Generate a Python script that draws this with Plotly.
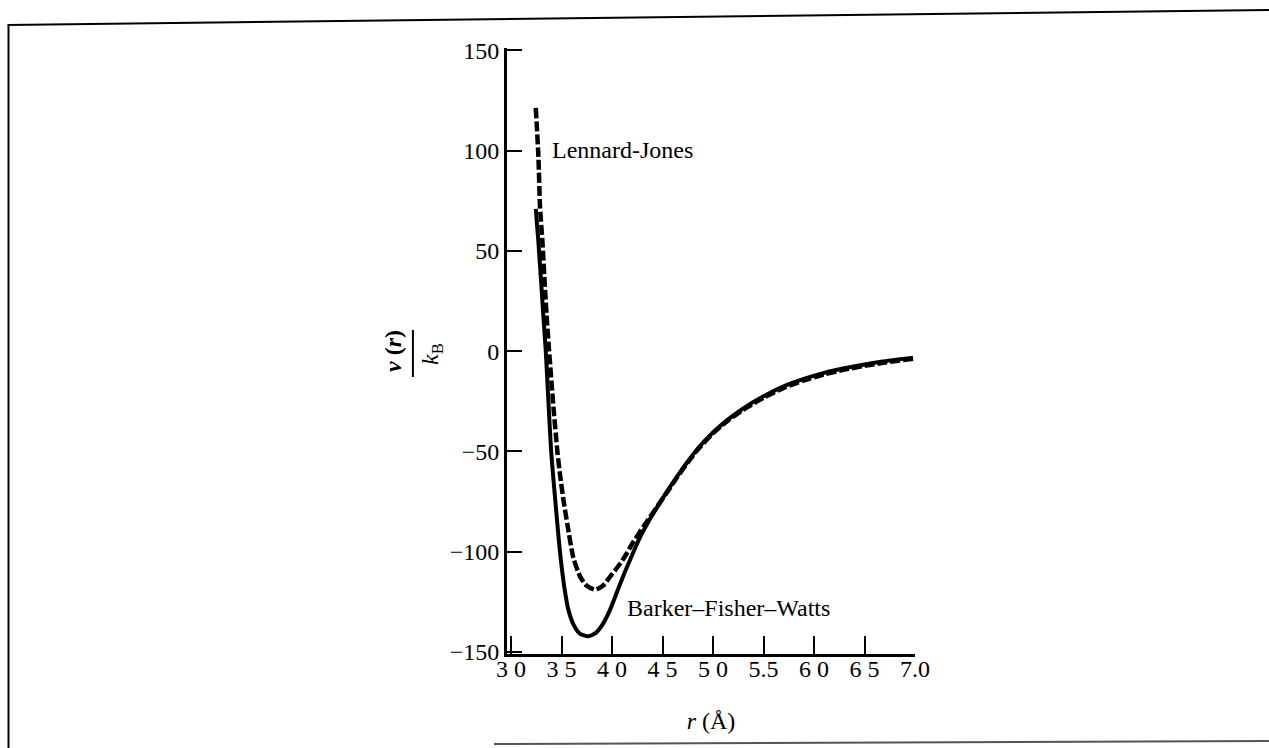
import plotly.graph_objects as go

# Pair potential of argon: Lennard-Jones vs Barker-Fisher-Watts, v(r)/k_B in K
lj_r = [3.245, 3.271, 3.287, 3.310, 3.337, 3.357, 3.377, 3.420, 3.459, 3.486,
        3.520, 3.560, 3.617, 3.684, 3.750, 3.832, 3.910, 3.981, 4.050, 4.113,
        4.200, 4.308, 4.378, 4.460, 4.550, 4.650, 4.750, 4.850, 5.000, 5.150,
        5.300, 5.500, 5.700, 5.900, 6.100, 6.300, 6.500, 6.700, 6.980]
lj_v = [121.3, 97.0, 72.0, 55.0, 30.5, 14.0, 0.0, -28.0, -50.0, -62.0,
        -74.5, -87.0, -103.0, -112.4, -117.0, -118.9, -117.0, -112.4, -108.0, -103.5,
        -96.0, -87.7, -82.6, -76.5, -70.0, -62.5, -55.5, -49.0, -41.0, -34.5,
        -29.2, -23.2, -18.3, -14.6, -11.6, -9.2, -7.3, -5.7, -3.8]

bfw_r = [3.245, 3.270, 3.300, 3.322, 3.344, 3.370, 3.396, 3.420, 3.446, 3.470,
         3.493, 3.530, 3.568, 3.620, 3.680, 3.766, 3.840, 3.910, 3.980, 4.050,
         4.120, 4.200, 4.280, 4.360, 4.450, 4.550, 4.650, 4.750, 4.850, 5.000,
         5.150, 5.300, 5.500, 5.700, 5.900, 6.100, 6.300, 6.500, 6.700, 6.980]
bfw_v = [71.0, 55.0, 33.0, 16.0, 0.0, -25.0, -49.0, -64.0, -79.0, -92.5,
         -104.0, -118.5, -129.0, -136.5, -140.8, -142.2, -140.5, -136.0, -129.0, -120.0,
         -111.0, -101.5, -92.5, -85.0, -77.5, -69.5, -62.0, -55.0, -48.5, -40.5,
         -34.0, -28.5, -22.5, -17.5, -13.8, -10.8, -8.5, -6.6, -5.0, -3.2]

x_ticks = [3.0, 3.5, 4.0, 4.5, 5.0, 5.5, 6.0, 6.5, 7.0]
x_tick_text = ["3 0", "3 5", "4 0", "4 5", "5 0", "5.5", "6 0", "6 5", "7.0"]
y_ticks = [-150, -100, -50, 0, 50, 100, 150]
y_tick_text = ["\u2212150", "\u2212100", "\u221250", "0", "50", "100", "150"]

W, H = 1269, 748
L, R, T, B = 507, 914.6, 48, 654  # plot area in pixels
SERIF = "Liberation Serif, Times New Roman, serif"
FONT = dict(family=SERIF, size=24, color="black")


def px(x):
    return (x - L) / (R - L)


def py(y):
    return (B - y) / (B - T)


fig = go.Figure()
fig.add_trace(go.Scatter(
    x=bfw_r, y=bfw_v, mode="lines", name="Barker\u2013Fisher\u2013Watts",
    line=dict(color="black", width=4, shape="spline", smoothing=0.6),
))
fig.add_trace(go.Scatter(
    x=lj_r, y=lj_v, mode="lines", name="Lennard-Jones",
    line=dict(color="black", width=4.5, dash="10px,3px", shape="spline", smoothing=0.6),
))

axis_common = dict(
    showgrid=False, zeroline=False, showline=True, linecolor="black",
    ticks="inside", tickcolor="black", tickwidth=2, tickfont=FONT,
    automargin=False,
)

fig.update_layout(
    width=W, height=H,
    margin=dict(l=L, r=W - R, t=T, b=H - B, pad=0),
    paper_bgcolor="white", plot_bgcolor="white",
    showlegend=False,
    xaxis=dict(range=[2.96, 7.0], tickvals=x_ticks, ticktext=x_tick_text,
               ticklen=18, linewidth=2.5, ticklabelstandoff=-9,
               title=dict(text="<i>r</i> (Å)", font=FONT, standoff=32),
               **axis_common),
    yaxis=dict(range=[-151.0, 151.2], tickvals=y_ticks, ticktext=y_tick_text,
               ticklen=15, linewidth=3,
               title=dict(text="<b><i>v</i> (<i>r</i>)</b>", font=FONT, standoff=42),
               **axis_common),
)

ann = dict(xref="paper", yref="paper", showarrow=False, font=FONT)

fig.add_annotation(text="Lennard-Jones", x=px(550), y=py(150),
                   xanchor="left", yanchor="middle", **ann)
fig.add_annotation(text="Barker\u2013Fisher\u2013Watts", x=px(625), y=py(608),
                   xanchor="left", yanchor="middle", **ann)

# denominator and bar of the v(r) / k_B fraction
fig.add_annotation(text="<i>k</i><sub>B</sub>", x=px(432), y=py(354),
                   xanchor="center", yanchor="middle", textangle=-90, **ann)
fig.add_shape(type="line", xref="paper", yref="paper",
              x0=px(413), x1=px(413), y0=py(330), y1=py(377),
              line=dict(color="black", width=2))

# page frame
frame = dict(type="line", xref="paper", yref="paper")
fig.add_shape(x0=px(8), y0=py(25), x1=px(1269), y1=py(10),
              line=dict(color="black", width=2), **frame)
fig.add_shape(x0=px(9), y0=py(25), x1=px(9), y1=py(748),
              line=dict(color="black", width=2), **frame)
fig.add_shape(x0=px(494), y0=py(744), x1=px(1269), y1=py(741),
              line=dict(color="#555555", width=2), **frame)

fig.write_html("out.html")
